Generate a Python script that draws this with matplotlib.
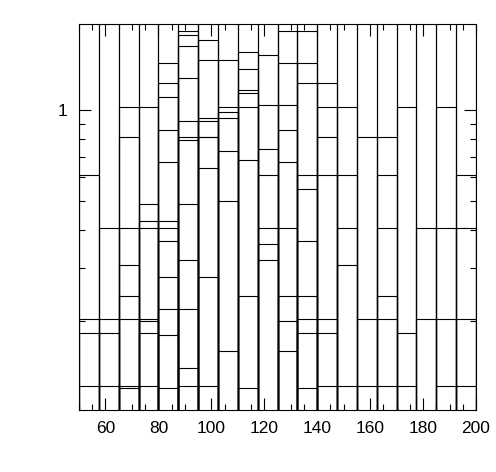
import matplotlib
matplotlib.use('Agg')
import matplotlib.pyplot as plt
from matplotlib.ticker import MultipleLocator, FixedLocator, FixedFormatter, NullFormatter

plt.rcParams['font.family'] = ['Liberation Sans', 'DejaVu Sans']

# 20 bins between 50 and 200
bin_lo = [50, 57.5, 65, 72.5, 80, 87.5, 95, 102.5, 110, 117.5,
          125, 132.5, 140, 147.5, 155, 162.5, 170, 177.5, 185, 192.5]
bin_width = 7.5

# stacked totals seen in each bin (tops of the stack layers)
levels = [
    [0.612, 0.203, 0.182, 0.122],
    [0.406, 0.203, 0.182, 0.122],
    [1.021, 0.812, 0.406, 0.306, 0.243, 0.203, 0.122, 0.120],
    [1.021, 0.487, 0.428, 0.406, 0.203, 0.200, 0.182, 0.122],
    [1.428, 1.226, 1.102, 0.857, 0.671, 0.428, 0.406, 0.368, 0.279, 0.219, 0.180, 0.120],
    [1.836, 1.781, 1.637, 1.283, 0.918, 0.812, 0.794, 0.487, 0.320, 0.219, 0.140, 0.122],
    [1.714, 1.472, 0.939, 0.918, 0.818, 0.812, 0.641, 0.279, 0.122],
    [1.461, 1.021, 0.983, 0.939, 0.735, 0.499, 0.159],
    [1.564, 1.364, 1.162, 1.144, 1.021, 0.682, 0.243, 0.120],
    [1.529, 1.044, 0.741, 0.612, 0.406, 0.359, 0.320],
    [1.836, 1.428, 1.044, 0.857, 0.671, 0.406, 0.243, 0.200, 0.159],
    [1.836, 1.428, 1.226, 0.612, 0.550, 0.368, 0.243, 0.203, 0.182, 0.120],
    [1.226, 1.021, 0.812, 0.612, 0.203, 0.182, 0.122],
    [1.021, 0.612, 0.406, 0.306, 0.122],
    [0.812, 0.203, 0.122],
    [0.812, 0.612, 0.406, 0.243, 0.203, 0.122],
    [1.021, 0.182, 0.122],
    [0.406, 0.203],
    [1.021, 0.406, 0.203, 0.122],
    [0.612, 0.406, 0.203, 0.122],
]
# the full stack runs off the top of the frame in every bin
stack_total = 5.0

y_min, y_max = 0.1015, 1.93
base = 0.05

fig = plt.figure(figsize=(4.96, 4.72), dpi=100)
ax = fig.add_axes([79 / 496, 1 - 410 / 472, 397 / 496, 386 / 472])
ax.set_yscale('log')

for lo, tops in zip(bin_lo, levels):
    for top in [stack_total] + sorted(tops, reverse=True):
        ax.bar(lo, top - base, width=bin_width, bottom=base, align='edge',
               fill=False, edgecolor='black', linewidth=0.8)

ax.set_xlim(50, 200)
ax.set_ylim(y_min, y_max)

ax.xaxis.set_major_locator(MultipleLocator(20))
ax.xaxis.set_minor_locator(MultipleLocator(5))
ax.yaxis.set_major_locator(FixedLocator([1]))
ax.yaxis.set_major_formatter(FixedFormatter(['1']))
ax.yaxis.set_minor_locator(FixedLocator([0.2, 0.3, 0.4, 0.5, 0.6, 0.7, 0.8, 0.9]))
ax.yaxis.set_minor_formatter(NullFormatter())

ax.tick_params(which='both', direction='in', top=True, right=True, width=0.8, labelsize=12.5)
ax.tick_params(which='major', length=8.5)
ax.tick_params(which='minor', length=4.5)
ax.tick_params(axis='x', which='major', pad=7.9)
ax.tick_params(axis='y', which='major', pad=8.6)
for s in ax.spines.values():
    s.set_linewidth(0.8)

fig.savefig('out.png', dpi=100)
